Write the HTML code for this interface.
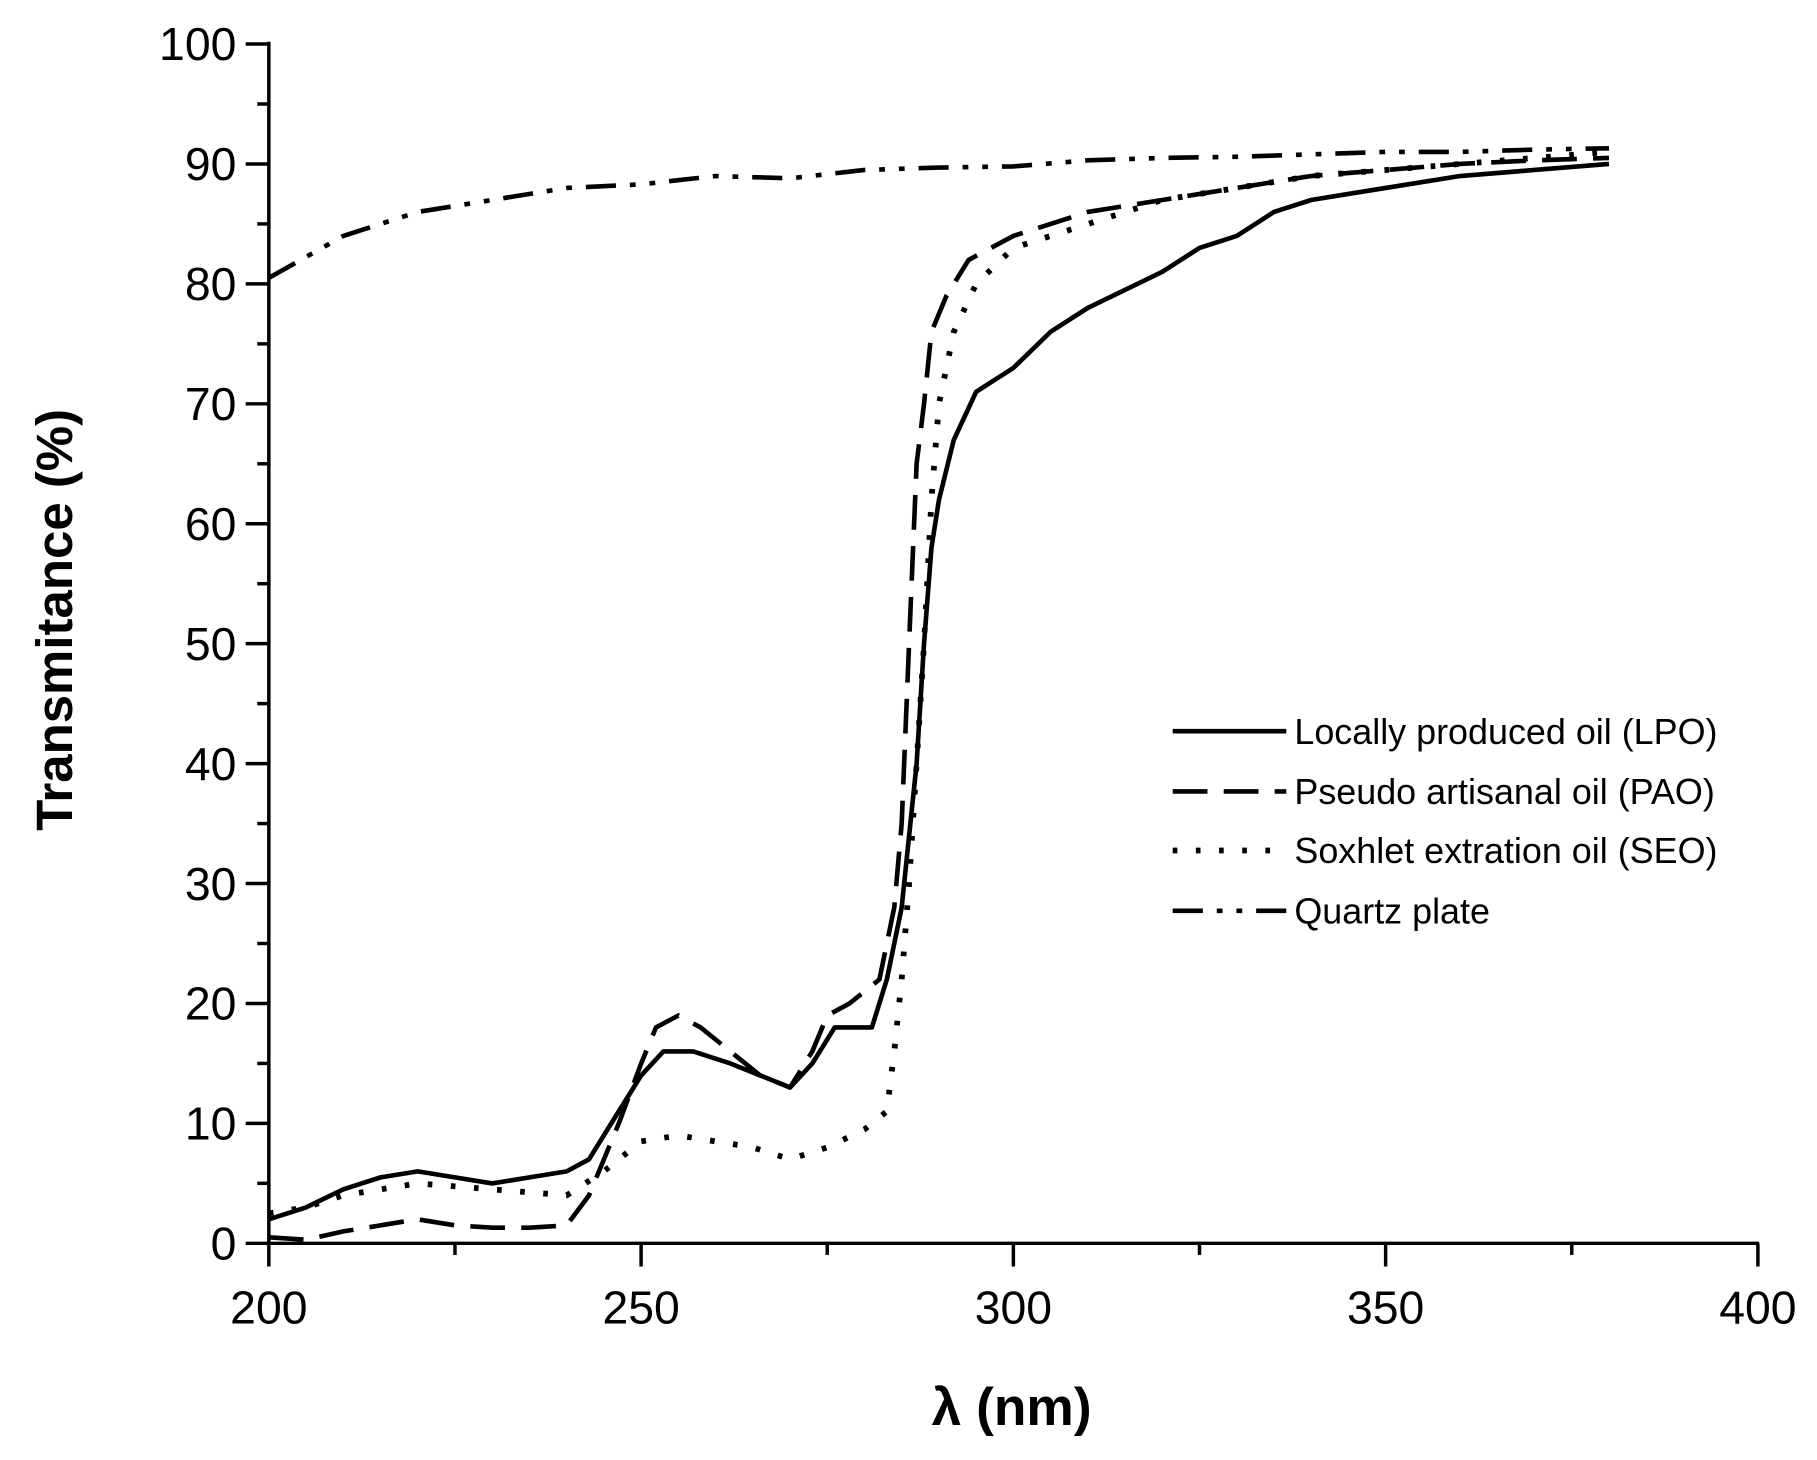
<!DOCTYPE html>
<html><head><meta charset="utf-8"><style>body{margin:0;background:#fff}svg{display:block}</style></head>
<body>
<svg id="s" width="1817" height="1460" viewBox="0 0 1568 1260" preserveAspectRatio="none" xmlns="http://www.w3.org/2000/svg" font-family="Liberation Sans, sans-serif">
<g id="ax" stroke="#000" stroke-width="3" fill="none"></g>
<g id="lab" font-size="40" fill="#000"></g>
<text x="62" y="535" transform="rotate(-90 62 535)" text-anchor="middle" font-size="44" font-weight="bold">Transmitance (%)</text>
<text x="873" y="1230" text-anchor="middle" font-size="46" font-weight="bold">λ (nm)</text>
<g id="ser" fill="none" stroke="#000" stroke-width="4"></g>
<g font-size="31" fill="#000">
<line x1="1012" y1="631" x2="1110" y2="631" stroke="#000" stroke-width="4"/>
<text x="1117" y="642">Locally produced oil (LPO)</text>
<line x1="1012" y1="683" x2="1110" y2="683" stroke="#000" stroke-width="4" stroke-dasharray="30,14"/>
<text x="1117" y="694">Pseudo artisanal oil (PAO)</text>
<line x1="1012" y1="734" x2="1110" y2="734" stroke="#000" stroke-width="5" stroke-dasharray="4,16"/>
<text x="1117" y="745">Soxhlet extration oil (SEO)</text>
<line x1="1012" y1="786" x2="1110" y2="786" stroke="#000" stroke-width="4" stroke-dasharray="26,12,5,12,5,12"/>
<text x="1117" y="797">Quartz plate</text>
</g>
</svg>
<script>
var X=v=>232+(v-200)*6.425, Y=t=>1073-t*10.35, NS="http://www.w3.org/2000/svg";
function el(p,t,a,txt){var e=document.createElementNS(NS,t);for(var k in a)e.setAttribute(k,a[k]);if(txt!==undefined)e.textContent=String(txt);document.getElementById(p).appendChild(e);}
el("ax","line",{x1:232,y1:36,x2:232,y2:1075});
el("ax","line",{x1:230,y1:1073,x2:1518,y2:1073});
for(var t=0;t<=100;t+=5){var maj=t%10==0;el("ax","line",{x1:maj?212:222,y1:Y(t),x2:232,y2:Y(t)});if(maj)el("lab","text",{x:204,y:Y(t)+14,"text-anchor":"end"},t);}
for(var v=200;v<=400;v+=25){var maj=v%50==0;el("ax","line",{x1:X(v),y1:1073,x2:X(v),y2:maj?1093:1083});if(maj)el("lab","text",{x:X(v),y:1142,"text-anchor":"middle"},v);}
function S(d,dash,w){var p=d.map((q,i)=>(i?"L":"M")+X(q[0]).toFixed(1)+","+Y(q[1]).toFixed(1)).join("");var a={d:p,"stroke-width":w||4,"stroke-linejoin":"round"};if(dash)a["stroke-dasharray"]=dash;el("ser","path",a);}
S([[200,2],[205,3],[210,4.5],[215,5.5],[220,6],[225,5.5],[230,5],[235,5.5],[240,6],[243,7],[246,10],[250,14],[253,16],[257,16],[262,15],[266,14],[270,13],[273,15],[276,18],[279,18],[281,18],[283,22],[285,28],[287,40],[288,50],[289,58],[290,62],[292,67],[295,71],[300,73],[305,76],[310,78],[320,81],[325,83],[330,84],[335,86],[340,87],[345,87.5],[350,88],[360,89],[370,89.5],[380,90]]);
S([[200,0.5],[205,0.3],[210,1],[215,1.5],[220,2],[225,1.5],[230,1.3],[235,1.3],[240,1.5],[243,4],[247,10],[250,15],[252,18],[255,19],[258,18],[262,16],[266,14],[270,13],[273,16],[275,19],[278,20],[282,22],[284,28],[285,35],[286,50],[287,65],[288,70],[289,76],[291,79],[294,82],[300,84],[310,86],[320,87],[330,88],[340,89],[350,89.5],[360,90],[370,90.3],[380,90.5]],"30,14");
S([[200,2.5],[205,3],[210,4],[220,5],[230,4.5],[240,4],[245,6],[250,8.5],[255,9],[260,8.5],[265,8],[270,7],[275,8],[280,9.5],[283,11],[284,16],[285,22],[286,30],[287,40],[288,50],[289,62],[290,70],[292,76],[295,80],[300,83],[310,85],[320,87],[330,88],[340,89],[350,89.5],[360,90],[380,91]],"4,16",5);
S([[200,80.5],[210,84],[220,86],[230,87],[240,88],[250,88.3],[260,89],[270,88.8],[280,89.5],[290,89.7],[300,89.8],[310,90.3],[320,90.5],[330,90.6],[340,90.8],[350,91],[360,91],[370,91.2],[380,91.3]],"26,12,5,12,5,12");
</script>
</body></html>
